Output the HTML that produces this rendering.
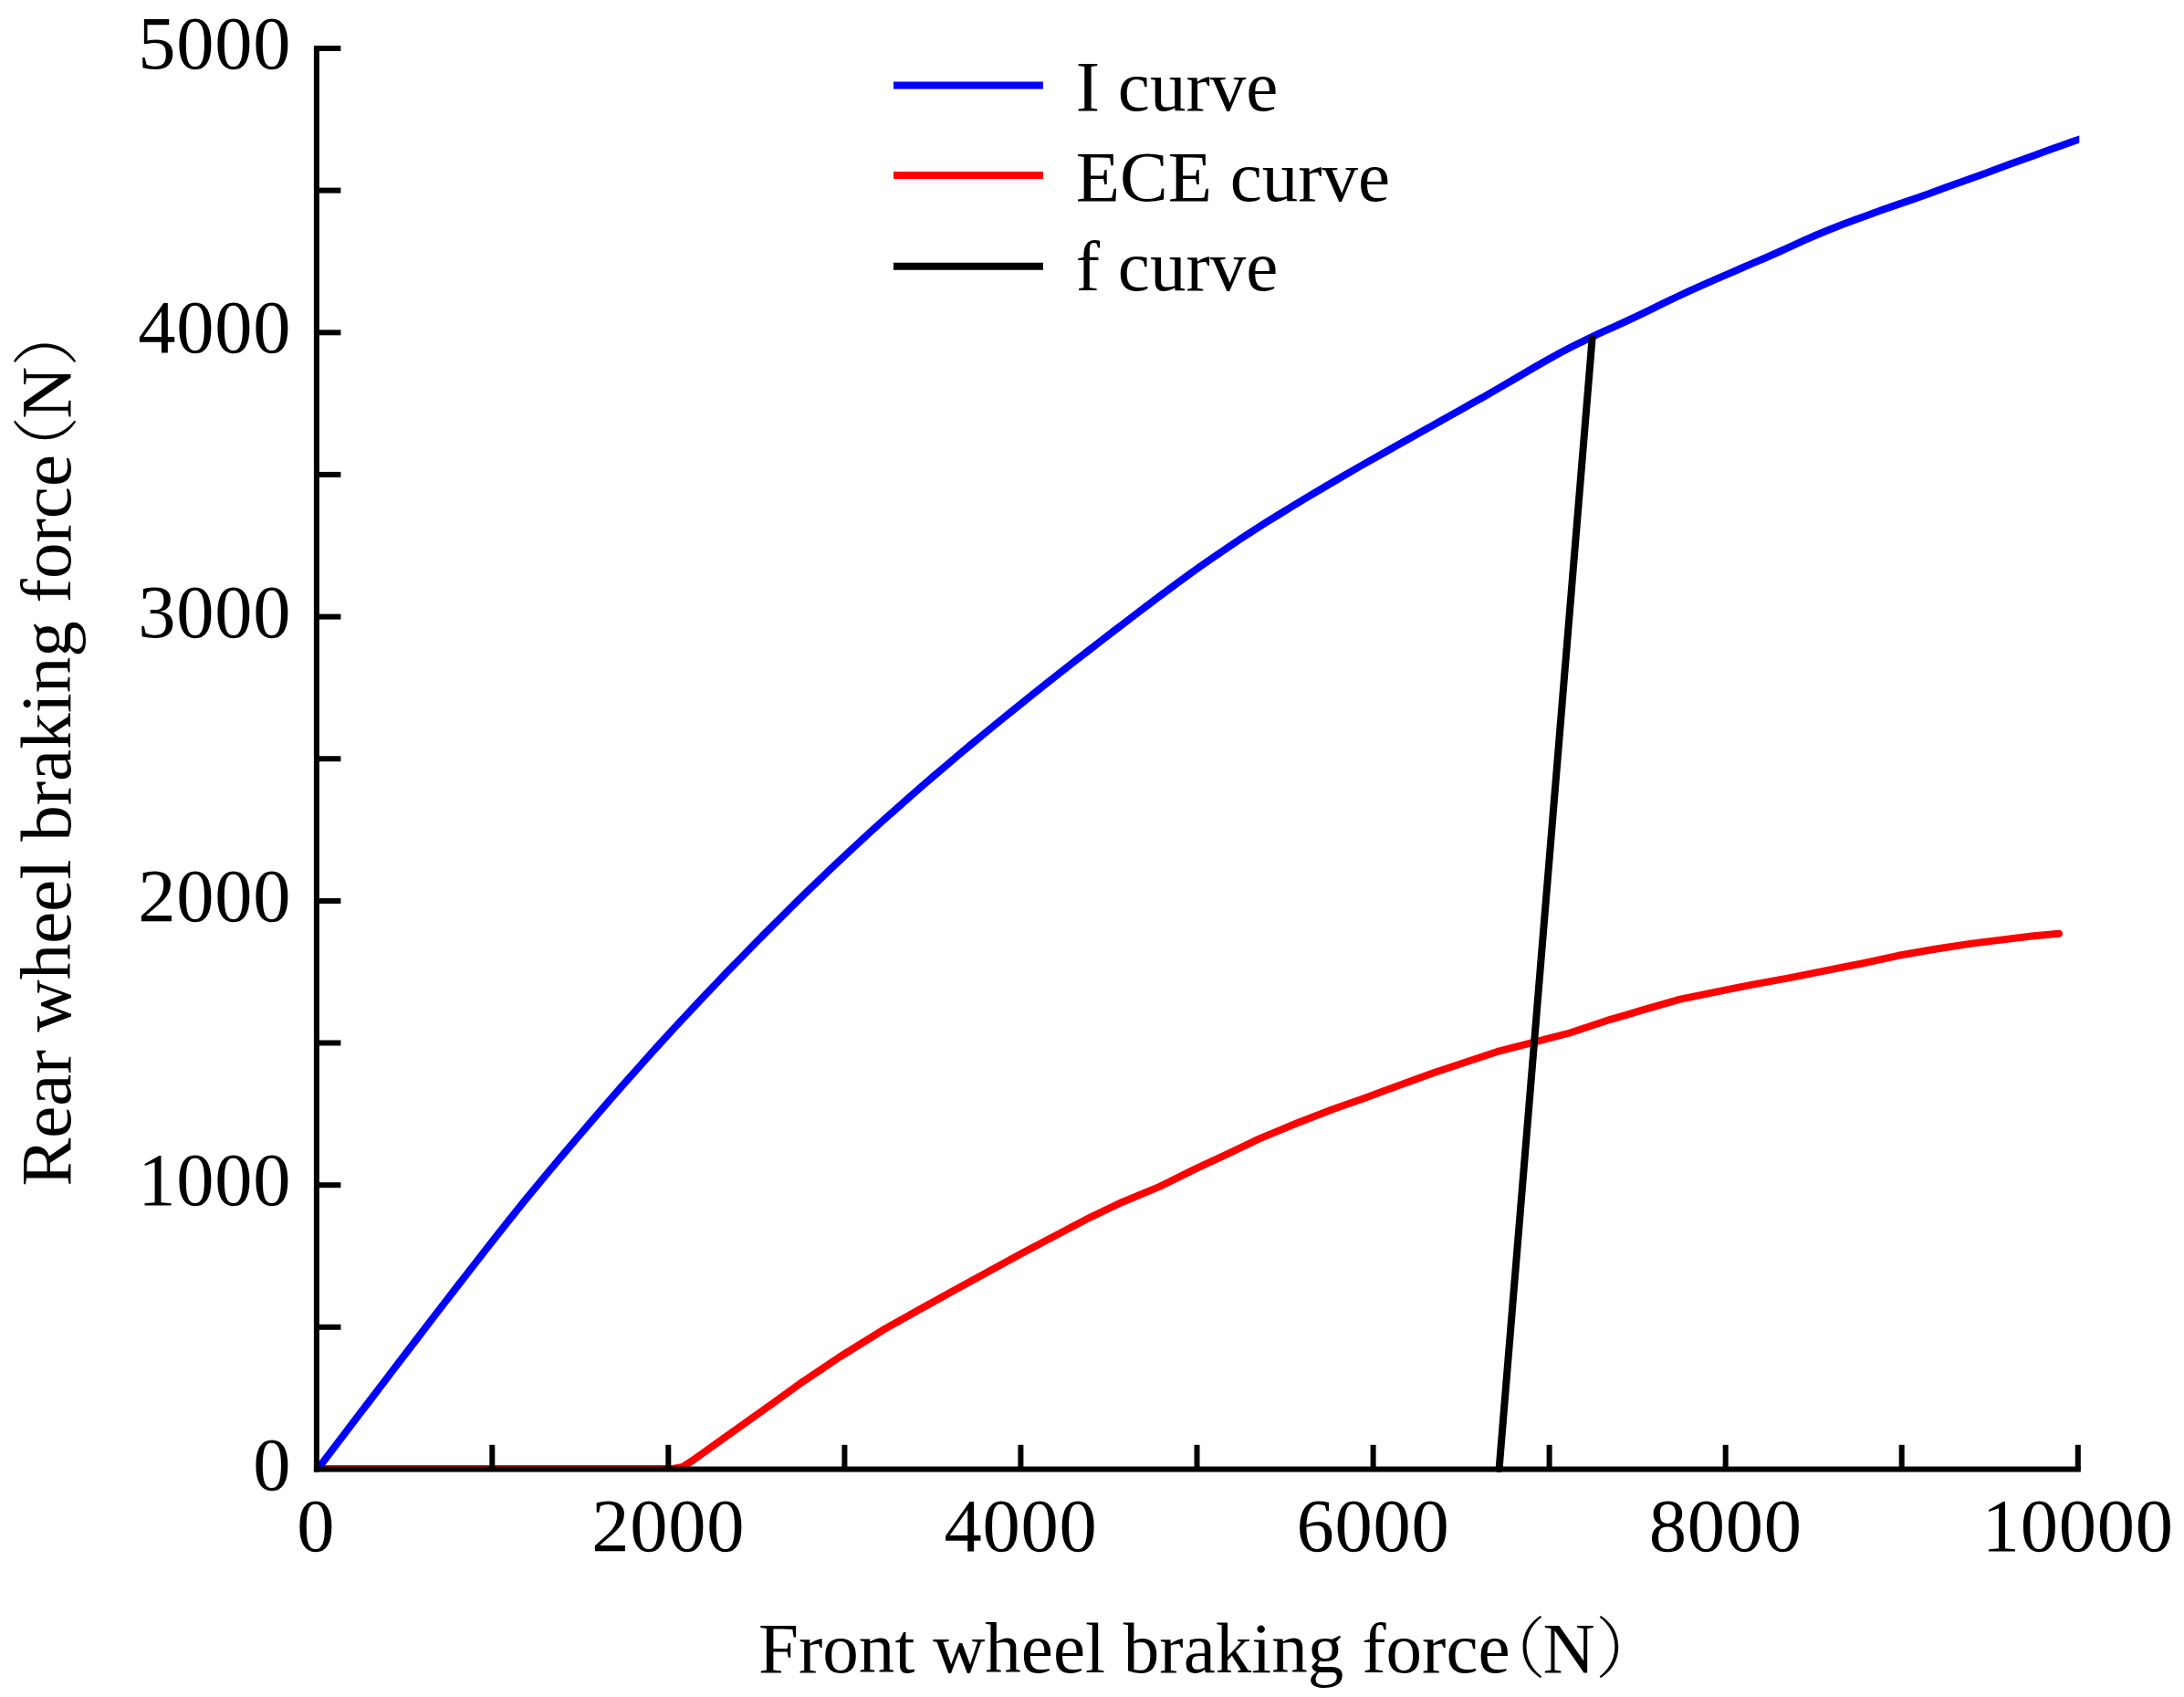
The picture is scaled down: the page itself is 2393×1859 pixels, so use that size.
<!DOCTYPE html>
<html><head><meta charset="utf-8"><title>Braking force distribution</title>
<style>
html,body{margin:0;padding:0;background:#fff;}
body{width:2393px;height:1859px;overflow:hidden;}
svg{display:block;}
text{font-family:"Liberation Serif","Noto Serif CJK SC",serif;fill:#000;}
.tk{font-size:82.5px;letter-spacing:0.75px;}
.lg{font-size:79px;}
.ti{font-size:79.1px;}
.cj{font-family:"Noto Serif CJK SC","Liberation Serif",serif;font-weight:200;font-size:73.1px;}
.ty{font-size:79.1px;}
</style></head><body>
<svg xmlns="http://www.w3.org/2000/svg" width="2393" height="1859" viewBox="0 0 2393 1859">
<rect width="2393" height="1859" fill="#fff"/>
<defs><clipPath id="fr"><rect x="346.9" y="0" width="1931.4" height="1613.6"/></clipPath><clipPath id="fr2"><rect x="346.9" y="0" width="1953.1" height="1610.6"/></clipPath></defs>
<polyline points="347.0,1609.0 737.0,1609.0 748.0,1606.8 758.0,1600.5 765.0,1595.5 785.0,1581.2 805.0,1567.1 847.5,1536.7 880.0,1513.3 902.4,1498.4 920.0,1486.5 970.0,1455.5 1040.0,1416.4 1120.0,1372.8 1195.0,1333.3 1230.0,1316.7 1270.0,1300.1 1310.0,1280.3 1345.0,1264.2 1380.0,1247.4 1420.0,1230.8 1460.0,1215.2 1495.0,1202.9 1570.0,1175.5 1640.0,1152.2 1680.0,1141.8 1720.0,1131.5 1760.0,1118.2 1780.0,1112.4 1800.0,1106.3 1840.0,1094.9 1880.0,1086.6 1920.0,1078.7 1960.0,1071.4 2000.0,1063.3 2040.0,1055.5 2080.0,1046.8 2120.0,1039.8 2160.0,1033.6 2226.0,1025.5 2256.0,1022.8" fill="none" stroke="#ff0000" stroke-width="8" stroke-linejoin="round" stroke-linecap="round" clip-path="url(#fr2)"/>
<polyline points="348.7,1608.6 362.7,1590.1 376.8,1571.6 390.8,1553.1 404.9,1534.7 418.9,1516.3 432.9,1497.9 447.0,1479.5 461.0,1461.2 475.0,1442.8 489.1,1424.6 503.1,1406.5 517.2,1388.4 531.2,1370.4 545.2,1352.5 559.3,1334.8 573.3,1317.3 587.3,1300.2 601.4,1283.3 615.4,1266.6 629.5,1250.0 643.5,1233.6 657.5,1217.3 671.6,1201.1 685.6,1185.1 699.7,1169.3 713.7,1153.6 727.7,1138.2 741.8,1122.9 755.8,1107.9 769.8,1093.0 783.9,1078.3 797.9,1063.6 812.0,1049.2 826.0,1034.8 840.0,1020.6 854.1,1006.6 868.1,992.7 882.1,978.9 896.2,965.3 910.2,951.9 924.3,938.6 938.3,925.6 952.3,912.6 966.4,899.9 980.4,887.4 994.5,875.0 1008.5,862.7 1022.5,850.6 1036.6,838.7 1050.6,826.8 1064.6,815.1 1078.7,803.5 1092.7,792.0 1106.8,780.6 1120.8,769.3 1134.8,758.1 1148.9,746.9 1162.9,735.9 1176.9,724.9 1191.0,714.0 1205.0,703.1 1219.1,692.3 1233.1,681.6 1247.1,670.9 1261.2,660.2 1275.2,649.7 1289.3,639.3 1303.3,629.1 1317.3,619.1 1331.4,609.3 1345.4,599.7 1359.4,590.3 1373.5,581.2 1387.5,572.2 1401.6,563.5 1415.6,554.8 1429.6,546.3 1443.7,538.0 1457.7,529.7 1471.8,521.5 1485.8,513.4 1499.8,505.4 1513.9,497.5 1527.9,489.6 1541.9,481.7 1556.0,473.8 1570.0,466.0 1584.1,458.1 1598.1,450.3 1612.1,442.3 1626.2,434.4 1640.2,426.4 1654.2,418.3 1668.3,410.0 1682.3,401.8 1696.4,393.7 1710.4,386.1 1724.4,378.8 1738.5,371.8 1752.5,365.2 1766.6,358.9 1780.6,352.5 1794.6,345.9 1808.7,339.1 1822.7,332.2 1836.7,325.5 1850.8,318.9 1864.8,312.6 1878.9,306.4 1892.9,300.3 1906.9,294.3 1921.0,288.2 1935.0,282.2 1949.0,276.0 1963.1,269.7 1977.1,263.2 1991.2,257.0 2005.2,251.3 2019.2,245.8 2033.3,240.6 2047.3,235.4 2061.4,230.3 2075.4,225.4 2089.4,220.6 2103.5,215.7 2117.5,210.7 2131.5,205.6 2145.6,200.6 2159.6,195.5 2173.7,190.4 2187.7,185.3 2201.7,180.1 2215.8,175.0 2229.8,169.9 2243.8,164.8 2257.9,159.8 2271.9,154.8 2286.0,150.0 2300.0,145.2" fill="none" stroke="#0000ff" stroke-width="8" stroke-linejoin="round" clip-path="url(#fr)"/>
<line x1="1642.6" y1="1609" x2="1744.5" y2="371.5" stroke="#000" stroke-width="8" stroke-linecap="round"/>
<g stroke="#000" stroke-width="6" fill="none">
<line x1="346.9" y1="50.0" x2="346.9" y2="1612.6"/>
<line x1="343.9" y1="1609.6" x2="2279.8" y2="1609.6"/>
<line x1="539.3" y1="1609.6" x2="539.3" y2="1582.8"/>
<line x1="732.3" y1="1609.6" x2="732.3" y2="1582.8"/>
<line x1="925.4" y1="1609.6" x2="925.4" y2="1582.8"/>
<line x1="1118.4" y1="1609.6" x2="1118.4" y2="1582.8"/>
<line x1="1311.5" y1="1609.6" x2="1311.5" y2="1582.8"/>
<line x1="1504.6" y1="1609.6" x2="1504.6" y2="1582.8"/>
<line x1="1697.6" y1="1609.6" x2="1697.6" y2="1582.8"/>
<line x1="1890.7" y1="1609.6" x2="1890.7" y2="1582.8"/>
<line x1="2083.7" y1="1609.6" x2="2083.7" y2="1582.8"/>
<line x1="2276.8" y1="1609.6" x2="2276.8" y2="1582.8"/>
<line x1="346.9" y1="1453.8" x2="373.4" y2="1453.8"/>
<line x1="346.9" y1="1298.2" x2="373.4" y2="1298.2"/>
<line x1="346.9" y1="1142.5" x2="373.4" y2="1142.5"/>
<line x1="346.9" y1="986.9" x2="373.4" y2="986.9"/>
<line x1="346.9" y1="831.2" x2="373.4" y2="831.2"/>
<line x1="346.9" y1="675.6" x2="373.4" y2="675.6"/>
<line x1="346.9" y1="519.9" x2="373.4" y2="519.9"/>
<line x1="346.9" y1="364.3" x2="373.4" y2="364.3"/>
<line x1="346.9" y1="208.6" x2="373.4" y2="208.6"/>
<line x1="346.9" y1="53.0" x2="373.4" y2="53.0"/>
</g>
<text class="tk" x="346.2" y="1698.8" text-anchor="middle">0</text>
<text class="tk" x="732.3" y="1698.8" text-anchor="middle">2000</text>
<text class="tk" x="1118.4" y="1698.8" text-anchor="middle">4000</text>
<text class="tk" x="1504.6" y="1698.8" text-anchor="middle">6000</text>
<text class="tk" x="1890.7" y="1698.8" text-anchor="middle">8000</text>
<text class="tk" x="2276.8" y="1698.8" text-anchor="middle">10000</text>
<text class="tk" x="319.2" y="1631.5" text-anchor="end">0</text>
<text class="tk" x="319.2" y="1320.2" text-anchor="end">1000</text>
<text class="tk" x="319.2" y="1008.9" text-anchor="end">2000</text>
<text class="tk" x="319.2" y="697.6" text-anchor="end">3000</text>
<text class="tk" x="319.2" y="386.3" text-anchor="end">4000</text>
<text class="tk" x="319.2" y="75.0" text-anchor="end">5000</text>
<line x1="979" y1="93.6" x2="1143" y2="93.6" stroke="#0000ff" stroke-width="8"/>
<text class="lg" x="1178.8" y="121.2">I curve</text>
<line x1="979" y1="192" x2="1143" y2="192" stroke="#ff0000" stroke-width="8"/>
<text class="lg" x="1178.8" y="220.2">ECE curve</text>
<line x1="979" y1="291.7" x2="1143" y2="291.7" stroke="#000" stroke-width="8"/>
<text class="lg" x="1178.8" y="318.4">f curve</text>
<text class="ti" x="831" y="1831.5">Front wheel braking force</text>
<text class="ti cj" x="1620.7" y="1831.5">（</text><text class="ti" x="1690.6" y="1831.5">N</text><text class="ti cj" x="1748.1" y="1831.5">）</text>
<g transform="translate(76.5,1299.5) rotate(-90)"><text class="ti ty" x="0" y="0">Rear wheel braking force</text><text class="ti cj" x="770.4" y="0">（</text><text class="ti ty" x="840.8" y="0">N</text><text class="ti cj" x="897.7" y="0">）</text></g>
</svg></body></html>
